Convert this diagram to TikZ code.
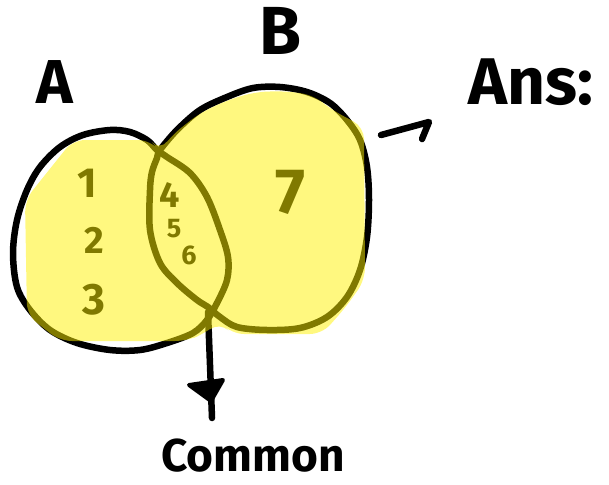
\documentclass[tikz,border=0pt]{standalone}
\usepackage{fontspec}
\setmainfont{Fira Sans}
\begin{document}
\begin{tikzpicture}[x=1pt,y=-1pt,
  outline/.style={line width=6.5pt, line cap=round, line join=round},
  lbl/.style={font=\bfseries\fontsize{#1}{#1}\selectfont, inner sep=0pt},
  hl/.style={fill=yellow, fill opacity=0.5}]
\useasboundingbox (0,0) rectangle (609,484);
% set A outline
\draw[outline] plot[smooth cycle, tension=0.55] coordinates {
 (157,150) (147,140) (130,132) (110,130) (83,135) (60,147) (40,167) (27,190)
 (17,220) (13,253) (17,287) (30,310) (50,330) (77,343) (110,350) (140,350)
 (167,343) (193,333) (207,320) (217,303) (227,280) (228,257) (220,230)
 (207,197) (190,173) (167,157)};
% set B outline
\draw[outline] plot[smooth cycle, tension=0.55] coordinates {
 (160,150) (177,130) (200,110) (227,97) (253,88) (280,87) (307,92) (330,103)
 (347,120) (360,140) (367,167) (369,200) (367,237) (360,270) (347,297)
 (327,317) (300,328) (267,330) (237,327) (220,317) (208,307) (197,300)
 (177,283) (160,263) (150,230) (150,190) (152,172) (157,158)};
% labels
\node[lbl=62] (la) at (55,82) {A};
\node[lbl=68] (lb) at (280,31) {B};
\node[lbl=42] (n1) at (87,183) {1};
\node[lbl=38] (n2) at (94,240) {2};
\node[lbl=44] (n3) at (94,300) {3};
\node[lbl=36] (n4) at (170,195) {4};
\node[lbl=27] (n5) at (174,229) {5};
\node[lbl=27] (n6) at (189,255) {6};
\node[lbl=64] (n7) at (290,192) {7};
\node[lbl=66] (ans) at (531,82) {Ans:};
\node[lbl=46] (common) at (253,456) {Common};
% arrows
\coordinate (lensbot) at (208,312);
\coordinate (commontip) at (212,418);
\draw[outline] (lensbot) -- (commontip);
\fill[line width=4pt, line join=round, draw] (189,385) -- (223,380) -- (211,401) -- cycle;
\coordinate (ansfrom) at (381,135);
\coordinate (ansto) at (429,122);
\coordinate (anshook) at (422,139);
\draw[outline] (ansfrom) -- (ansto) -- (anshook);
% highlighter
\fill[hl, rounded corners=12pt] (73,140) -- (150,140) -- (160,151) -- (172,135)
 -- (200,113) -- (228,100) -- (255,92) -- (285,91) -- (313,95) -- (332,110)
 -- (364,127) -- (365,280) -- (345,308) -- (322,334) -- (232,334) -- (220,322)
 -- (205,333) -- (187,341) -- (60,341) -- (27,315) -- (25,200) -- cycle;
\end{tikzpicture}
\end{document}
